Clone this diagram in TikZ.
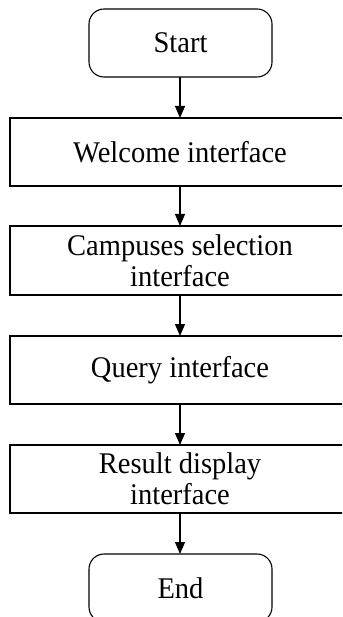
\documentclass[tikz,border=0pt]{standalone}
\usepackage{fontspec}
\setmainfont{Liberation Serif}[FakeStretch=0.95]
\usetikzlibrary{arrows.meta}
\begin{document}
\begin{tikzpicture}[x=1pt,y=1pt,
  every node/.style={font=\fontsize{30}{31}\selectfont, inner sep=0pt, outer sep=0pt},
  terminal/.style={draw, line width=1.1pt, rounded corners=15pt, minimum width=183pt, minimum height=68pt},
  stepbox/.style={draw, line width=1.1pt, minimum width=340pt, minimum height=68pt, align=center},
  flow/.style={line width=1.1pt, -{Triangle[length=12pt,width=10pt]}}]
  \useasboundingbox (0,0) rectangle (342,-617);
  \clip (0,0) rectangle (342,-617);
  \node[terminal] (start) at (180.5,-43) {Start};
  \node[stepbox] (welcome) at (180,-152) {Welcome interface};
  \node[stepbox, minimum height=69pt] (campus) at (180,-260.5) {Campuses selection\\interface};
  \node[stepbox] (query) at (180,-370) {Query interface};
  \node[stepbox] (result) at (180,-479) {Result display\\interface};
  \node[terminal] (end) at (180.5,-588) {End};
  \draw[flow] (start.south -| welcome.north) -- (welcome.north);
  \draw[flow] (welcome) -- (campus);
  \draw[flow] (campus) -- (query);
  \draw[flow] (query) -- (result);
  \draw[flow] (result.south) -- (result.south |- end.north);
\end{tikzpicture}
\end{document}
